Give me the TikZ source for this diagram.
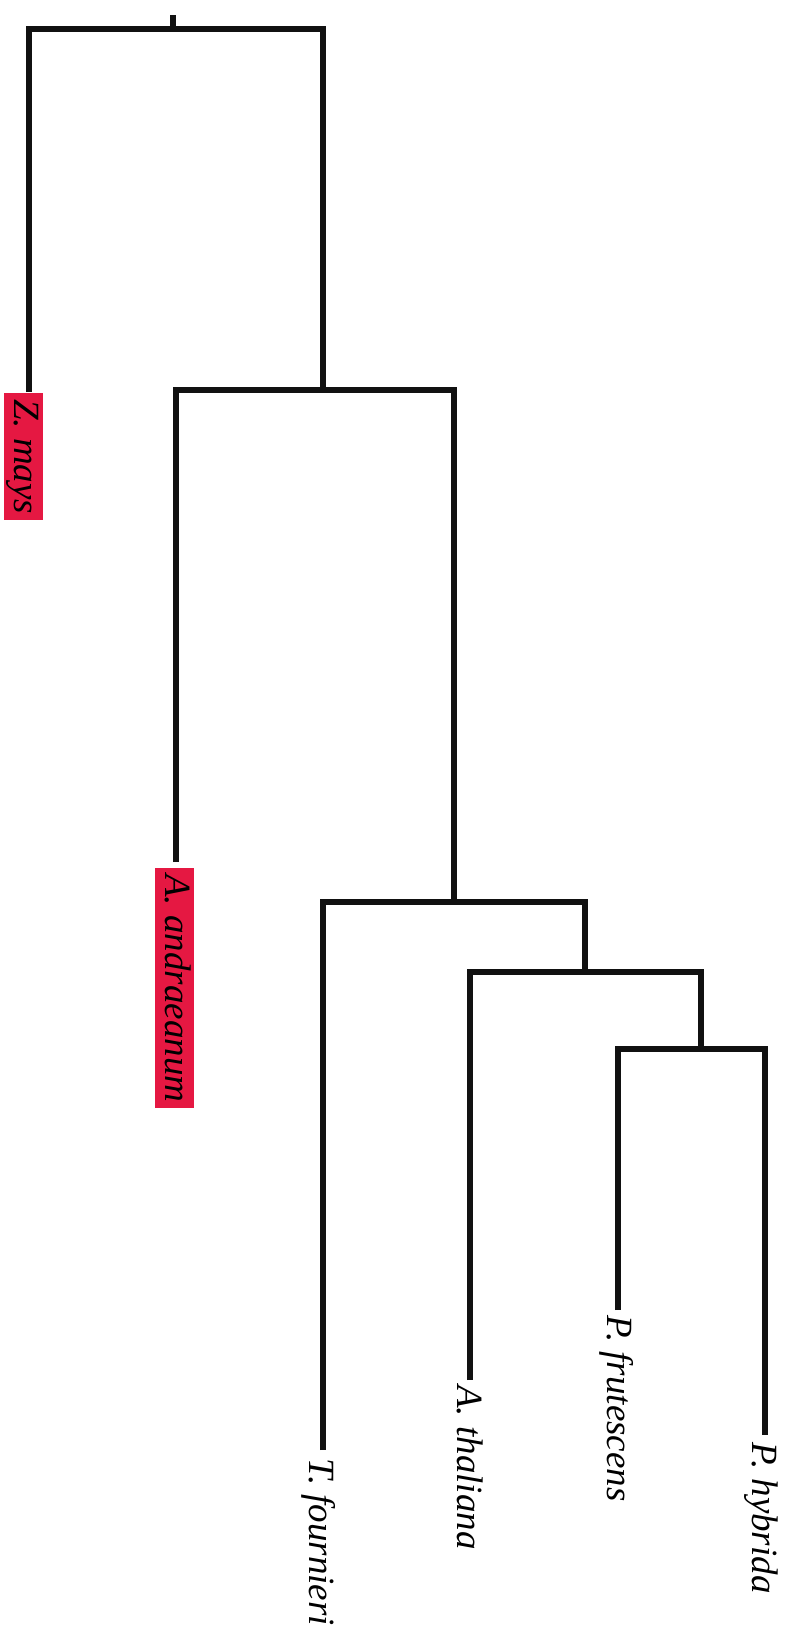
\documentclass[tikz,border=0pt]{standalone}
\usepackage{fontspec}
\setmainfont{Liberation Serif}
\definecolor{hl}{RGB}{229,24,66}
\definecolor{ink}{RGB}{17,17,17}
\begin{document}
\begin{tikzpicture}[x=1pt,y=-1pt,
  branch/.style={draw=ink,line width=5.5pt,line join=miter},
  taxon/.style={rotate=-90,anchor=base west,font=\fontsize{37}{40}\selectfont\itshape,
    inner xsep=4pt,inner ysep=0pt,text height=29pt,text depth=10pt},
  hilite/.style={taxon,fill=hl,inner xsep=6pt}]
\useasboundingbox (0,0) rectangle (795,1641);
\fill[white] (0,0) rectangle (795,1641);
% internal nodes and leaf tips
\coordinate (root) at (173,15);
\coordinate (n0) at (173,29);
\coordinate (zm) at (29,392);
\coordinate (n1) at (323,390);
\coordinate (aa) at (176,862);
\coordinate (n2) at (454,902);
\coordinate (tf) at (323,1450);
\coordinate (n3) at (585,972);
\coordinate (at) at (470,1380);
\coordinate (n4) at (701,1049);
\coordinate (pf) at (618,1310);
\coordinate (ph) at (765,1435);
% branches
\draw[branch] (root) -- (n0);
\draw[branch] (zm) |- (n0) -| (n1);
\draw[branch] (aa) |- (n1) -| (n2);
\draw[branch] (tf) |- (n2) -| (n3);
\draw[branch] (at) |- (n3) -| (n4);
\draw[branch] (pf) |- (n4) -| (ph);
% labels
\node[hilite] (lzm) at ([shift={(-15,1)}]zm) {Z. mays};
\node[hilite] (laa) at ([shift={(-11,6)}]aa) {A. andraeanum};
\node[taxon] (ltf) at ([shift={(-14,4)}]tf) {T. fournieri};
\node[taxon] (lat) at ([shift={(-13,1)}]at) {A. thaliana};
\node[taxon] (lpf) at ([shift={(-11,1)}]pf) {P. frutescens};
\node[taxon] (lph) at ([shift={(-13,3)}]ph) {P. hybrida};
\end{tikzpicture}
\end{document}
